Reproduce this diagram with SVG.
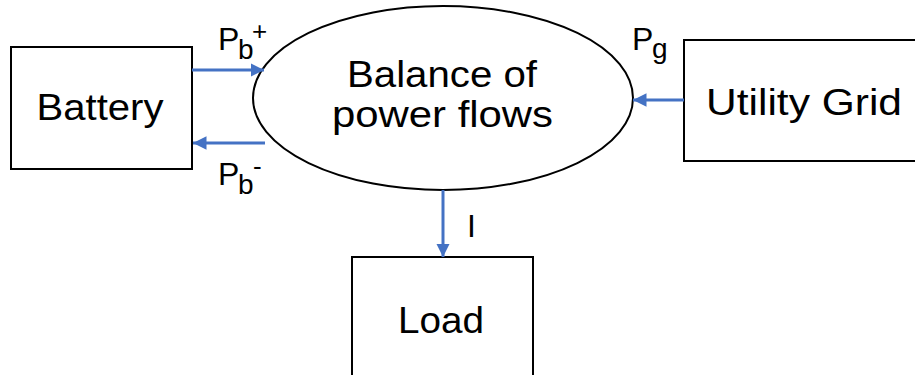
<svg xmlns="http://www.w3.org/2000/svg" width="915" height="375" viewBox="0 0 915 375">
<defs>
<style>
.box{fill:#fff;stroke:#000;stroke-width:2}
.t{font-family:"Liberation Sans",Arial,sans-serif;font-size:36px;fill:#000;text-anchor:middle}
.lbl{font-family:"Liberation Sans",Arial,sans-serif;font-size:32px;fill:#000}
.sub{font-size:28px}
.sup{font-size:26px}
.c{stroke:#4472C4;stroke-width:3;fill:none;marker-end:url(#ah)}
</style>
<marker id="ah" viewBox="0 0 10 10" refX="10" refY="5" markerWidth="4.5" markerHeight="4.5" markerUnits="strokeWidth" orient="auto">
<path d="M0,0 L10,5 L0,10 Z" fill="#4472C4"/>
</marker>
</defs>
<rect width="915" height="375" fill="#fff"/>
<g id="battery">
<rect class="box" x="11" y="47" width="181" height="122"/>
<text class="t" x="100" y="120" textLength="127" lengthAdjust="spacingAndGlyphs">Battery</text>
</g>
<g id="balance">
<ellipse cx="443" cy="98" rx="190" ry="92" fill="#fff" stroke="#000" stroke-width="2"/>
<text class="t" x="442" y="87" textLength="190" lengthAdjust="spacingAndGlyphs">Balance of</text>
<text class="t" x="442.5" y="127" textLength="221" lengthAdjust="spacingAndGlyphs">power flows</text>
</g>
<g id="grid">
<rect class="box" x="684" y="40" width="240" height="121"/>
<text class="t" x="804" y="115" textLength="196" lengthAdjust="spacingAndGlyphs">Utility Grid</text>
</g>
<g id="load">
<rect class="box" x="352" y="257" width="181" height="130"/>
<text class="t" x="441" y="333" textLength="86" lengthAdjust="spacingAndGlyphs">Load</text>
</g>
<g id="connectors">
<line class="c" x1="192" y1="70" x2="264" y2="70"/>
<line class="c" x1="265" y1="143" x2="193" y2="143"/>
<line class="c" x1="684" y1="100" x2="633" y2="100"/>
<line class="c" x1="443" y1="190" x2="443" y2="257"/>
</g>
<g id="labels">
<text class="lbl" x="218" y="50">P<tspan class="sub" x="238" y="59">b</tspan><tspan class="sup" x="252" y="40">+</tspan></text>
<text class="lbl" x="218" y="185">P<tspan class="sub" x="238" y="194">b</tspan><tspan class="sup" x="253" y="175">-</tspan></text>
<text class="lbl" x="632" y="50">P<tspan class="sub" x="652" y="58">g</tspan></text>
<text class="lbl" x="467" y="237">I</text>
</g>
</svg>
